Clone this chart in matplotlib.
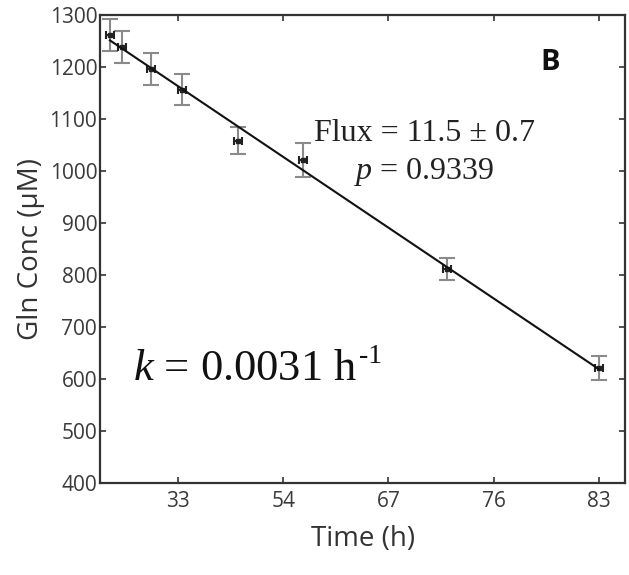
import numpy as np
import matplotlib
matplotlib.use('Agg')
import matplotlib.pyplot as plt

# 数据 (x 为坐标轴上的位置, 刻度标签见 tick_labels)
time_pos = [0.354, 0.468, 0.744, 1.038, 1.57, 2.19, 3.555, 5.0]
gln_conc = [1262, 1238, 1196, 1156, 1058, 1021, 812, 621]
conc_err = [31, 31, 30, 30, 26, 33, 21, 23]
time_err = [0.04, 0.04, 0.04, 0.04, 0.04, 0.04, 0.04, 0.04]
tick_pos = [1, 2, 3, 4, 5]
tick_labels = ['33', '54', '67', '76', '83']
y_ticks = list(range(400, 1301, 100))

plt.rcParams['mathtext.fontset'] = 'custom'
plt.rcParams['mathtext.rm'] = 'Liberation Serif'
plt.rcParams['mathtext.it'] = 'Liberation Serif:italic'

fig = plt.figure(figsize=(6.29, 5.75), dpi=100)
ax = fig.add_axes([0.159, 0.16, 0.835, 0.814])

# 误差棒
ax.errorbar(time_pos, gln_conc, yerr=conc_err, fmt='none', ecolor='#8a8a8a',
            elinewidth=1.5, capsize=6, capthick=1.5, zorder=2)
ax.errorbar(time_pos, gln_conc, xerr=time_err, fmt='s', color='#222222',
            markersize=2.5, ecolor='#222222', elinewidth=1.5, capsize=3,
            capthick=1.5, zorder=3)

# 线性拟合
coef = np.polyfit(time_pos, gln_conc, 1)
fx = np.array([time_pos[0], time_pos[-1]])
ax.plot(fx, np.polyval(coef, fx), color='#111111', lw=1.5, zorder=4)

ax.set_xlim(0.26, 5.25)
ax.set_ylim(400, 1300)
ax.set_xticks(tick_pos)
ax.set_xticklabels(tick_labels)
ax.set_yticks(y_ticks)

for s in ax.spines.values():
    s.set_color('#333333')
    s.set_linewidth(1.6)
ax.tick_params(direction='in', length=4, width=1.2, color='#333333',
               top=True, right=True, labelsize=15, labelcolor='#3a3a3a', pad=6)
for lab in ax.get_xticklabels() + ax.get_yticklabels():
    lab.set_family('Open Sans')
ax.tick_params(axis='y', pad=2)

ax.set_xlabel('Time (h)', fontsize=20, family='Open Sans', color='#333333', labelpad=9)
ax.set_ylabel('Gln Conc (μM)', fontsize=20, family='Open Sans', color='#333333', labelpad=3)

ax.text(3.345, 1073, 'Flux = 11.5 ± 0.7', fontsize=23, family='Liberation Serif',
        ha='center', va='center', color='#222222')
ax.text(3.345, 998, '$p$ = 0.9339', fontsize=23, family='Liberation Serif',
        ha='center', va='center', color='#222222')
kt = ax.text(0.573, 598, '$k$ = 0.0031 h', fontsize=32,
             family='Liberation Serif', ha='left', va='baseline', color='#111111')
ax.annotate('-1', xy=(1.0, 0.5), xycoords=kt, xytext=(1, 0),
            textcoords='offset points', fontsize=20, family='Liberation Serif',
            ha='left', va='bottom', color='#111111')
ax.text(4.54, 1208, 'B', fontsize=21, family='Open Sans', weight='bold',
        ha='center', va='center', color='#111111')

plt.savefig('out.png', dpi=100)
